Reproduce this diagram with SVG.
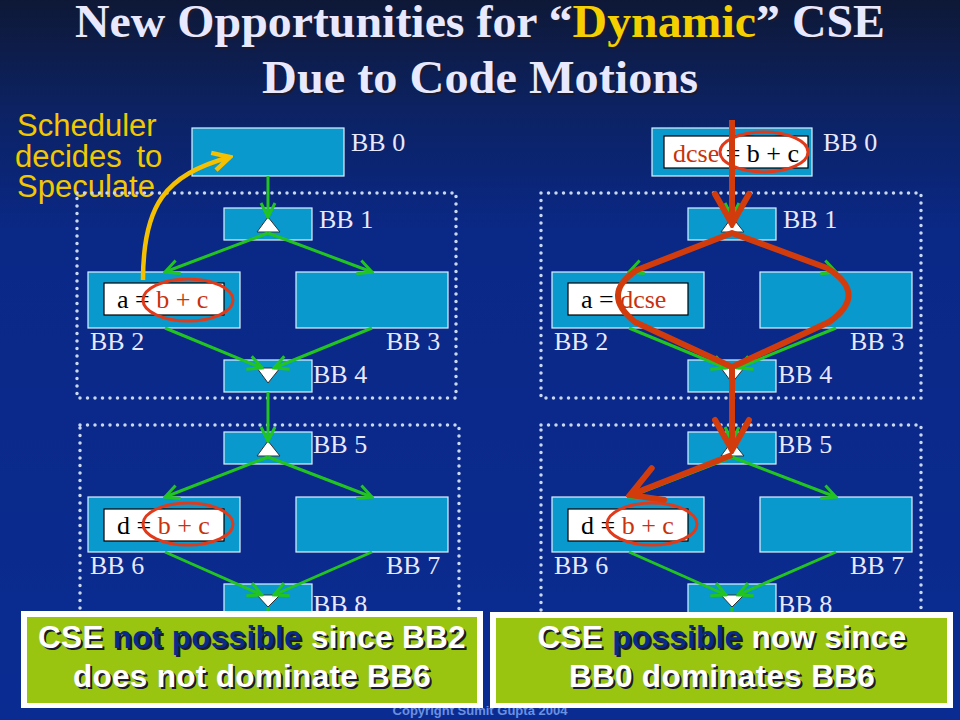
<svg xmlns="http://www.w3.org/2000/svg" width="960" height="720" viewBox="0 0 960 720">
<defs>
<linearGradient id="bg" x1="0" y1="0" x2="0" y2="1">
<stop offset="0" stop-color="#0e1836"/>
<stop offset="0.15" stop-color="#0c2262"/>
<stop offset="0.32" stop-color="#0a2886"/>
<stop offset="1" stop-color="#0a2c92"/>
</linearGradient>
<marker id="ag" markerUnits="userSpaceOnUse" markerWidth="18" markerHeight="18" viewBox="0 0 18 18" refX="16" refY="9" orient="auto">
<path d="M2,2 L16,9 L2,16" fill="none" stroke="#22c422" stroke-width="3" stroke-linejoin="miter"/>
</marker>
<marker id="ay" markerUnits="userSpaceOnUse" markerWidth="24" markerHeight="24" viewBox="0 0 24 24" refX="21" refY="12" orient="auto">
<path d="M4,3 L21,12 L4,21" fill="none" stroke="#f5c000" stroke-width="4.5"/>
</marker>
<marker id="ar" markerUnits="userSpaceOnUse" markerWidth="40" markerHeight="40" viewBox="0 0 40 40" refX="36" refY="20" orient="auto">
<path d="M6,3 L36,20 L6,37" fill="none" stroke="#d23c0c" stroke-width="6" stroke-linecap="round"/>
</marker>
</defs>
<style>
.bb{fill:#0a99cc;stroke:#dff2ff;stroke-width:1.2}
.ib{fill:#ffffff;stroke:#000000;stroke-width:1.2}
.lbl{font-family:"Liberation Serif","Times New Roman",serif;font-size:26px;fill:#e8e8ff}
.code{font-family:"Liberation Serif","Times New Roman",serif;font-size:26px;fill:#000}
.red{fill:#c8320e}
.tri{fill:#ffffff;stroke:#333;stroke-width:1}
.dot{fill:none;stroke:#c8d8f0;stroke-width:3.5;stroke-dasharray:0 7.5;stroke-linecap:round}
.g{fill:none;stroke:#22c422;stroke-width:3;marker-end:url(#ag)}
.ell{fill:none;stroke:#e03a1a;stroke-width:3}
.title{font-family:"Liberation Serif","Times New Roman",serif;font-weight:bold;font-size:46px}
.cap{font-family:"Liberation Sans",Arial,sans-serif;font-weight:bold;font-size:31.5px;letter-spacing:0.3px;text-anchor:middle}
.sh{fill:#1a1a30}
.wh{fill:#ffffff}
.nb{fill:#0a2a8a}
</style>
<rect x="0" y="0" width="960" height="720" fill="url(#bg)"/>

<g id="title">
<text class="title sh" x="77" y="39" textLength="810" lengthAdjust="spacingAndGlyphs">New Opportunities for “<tspan>Dynamic</tspan>” CSE</text>
<text class="title" x="75" y="37" textLength="810" lengthAdjust="spacingAndGlyphs" fill="#e8e8ff">New Opportunities for “<tspan fill="#f5d000">Dynamic</tspan>” CSE</text>
<text class="title sh" x="264" y="95" textLength="436" lengthAdjust="spacingAndGlyphs">Due to Code Motions</text>
<text class="title" x="262" y="93" textLength="436" lengthAdjust="spacingAndGlyphs" fill="#e8e8ff">Due to Code Motions</text>
</g>

<g id="note" font-family="'Liberation Sans',Arial,sans-serif" font-size="31" fill="#f2c800">
<text x="17" y="136">Scheduler</text>
<text x="15" y="167" word-spacing="6">decides to</text>
<text x="17" y="197">Speculate</text>
</g>

<g id="regions">
<rect class="dot" x="77" y="193" width="379" height="205"/>
<rect class="dot" x="80" y="425" width="379" height="215"/>
<rect class="dot" x="541" y="193" width="380" height="205"/>
<rect class="dot" x="541" y="425" width="380" height="215"/>
</g>

<!-- Left CFG -->
<g id="L-BB0"><rect class="bb" x="192" y="128" width="152" height="48"/><text class="lbl" x="351" y="151">BB 0</text></g>
<g id="L-BB1"><rect class="bb" x="224" y="208" width="88" height="32"/><polygon class="tri" points="268,217 257,232 280,232"/><text class="lbl" x="319" y="228">BB 1</text></g>
<g id="L-BB2"><rect class="bb" x="88" y="272" width="152" height="56"/><rect class="ib" x="104" y="283" width="120" height="32"/><text class="code" x="117" y="308">a = <tspan class="red">b + c</tspan></text><text class="lbl" x="90" y="350">BB 2</text></g>
<g id="L-BB3"><rect class="bb" x="296" y="272" width="152" height="56"/><text class="lbl" x="386" y="350">BB 3</text></g>
<g id="L-BB4"><rect class="bb" x="224" y="360" width="88" height="32"/><polygon class="tri" points="257,368 280,368 268,383"/><text class="lbl" x="313" y="383">BB 4</text></g>
<g id="L-BB5"><rect class="bb" x="224" y="432" width="88" height="32"/><polygon class="tri" points="268,441 257,456 280,456"/><text class="lbl" x="313" y="453">BB 5</text></g>
<g id="L-BB6"><rect class="bb" x="88" y="497" width="152" height="55"/><rect class="ib" x="104" y="509" width="120" height="32"/><text class="code" x="117" y="534">d = <tspan class="red">b + c</tspan></text><text class="lbl" x="90" y="574">BB 6</text></g>
<g id="L-BB7"><rect class="bb" x="296" y="497" width="152" height="55"/><text class="lbl" x="386" y="574">BB 7</text></g>
<g id="L-BB8"><rect class="bb" x="224" y="584" width="88" height="40"/><polygon class="tri" points="257,595 280,595 268,607"/><text class="lbl" x="313" y="613">BB 8</text></g>

<!-- Right CFG -->
<g id="R-BB0"><rect class="bb" x="652" y="128" width="160" height="48"/><rect class="ib" x="664" y="136" width="144" height="32"/><text class="code" x="673" y="162"><tspan class="red">dcse</tspan> = b + c</text><text class="lbl" x="823" y="151">BB 0</text></g>
<g id="R-BB1"><rect class="bb" x="688" y="208" width="88" height="32"/><polygon class="tri" points="732,217 721,232 744,232"/><text class="lbl" x="783" y="228">BB 1</text></g>
<g id="R-BB2"><rect class="bb" x="552" y="272" width="152" height="56"/><rect class="ib" x="568" y="283" width="120" height="32"/><text class="code" x="581" y="308">a = <tspan class="red">dcse</tspan></text><text class="lbl" x="554" y="350">BB 2</text></g>
<g id="R-BB3"><rect class="bb" x="760" y="272" width="152" height="56"/><text class="lbl" x="850" y="350">BB 3</text></g>
<g id="R-BB4"><rect class="bb" x="688" y="360" width="88" height="32"/><polygon class="tri" points="721,368 744,368 732,383"/><text class="lbl" x="778" y="383">BB 4</text></g>
<g id="R-BB5"><rect class="bb" x="688" y="432" width="88" height="32"/><polygon class="tri" points="732,441 721,456 744,456"/><text class="lbl" x="778" y="453">BB 5</text></g>
<g id="R-BB6"><rect class="bb" x="552" y="497" width="152" height="55"/><rect class="ib" x="568" y="509" width="120" height="32"/><text class="code" x="581" y="534">d = <tspan class="red">b + c</tspan></text><text class="lbl" x="554" y="574">BB 6</text></g>
<g id="R-BB7"><rect class="bb" x="760" y="497" width="152" height="55"/><text class="lbl" x="850" y="574">BB 7</text></g>
<g id="R-BB8"><rect class="bb" x="688" y="584" width="88" height="40"/><polygon class="tri" points="721,595 744,595 732,607"/><text class="lbl" x="778" y="613">BB 8</text></g>

<g id="connectors">
<path class="g" d="M268,176 L268,217"/>
<path class="g" d="M268,233 L165,272"/>
<path class="g" d="M268,233 L372,272"/>
<path class="g" d="M165,328 L262,368"/>
<path class="g" d="M372,328 L274,368"/>
<path class="g" d="M268,392 L268,441"/>
<path class="g" d="M268,457 L165,497"/>
<path class="g" d="M268,457 L372,497"/>
<path class="g" d="M165,552 L262,595"/>
<path class="g" d="M372,552 L274,595"/>
<path d="M268,607 L268,640" stroke="#22c422" stroke-width="3"/>
<path class="g" d="M732,176 L732,217"/>
<path class="g" d="M732,233 L629,272"/>
<path class="g" d="M732,233 L836,272"/>
<path class="g" d="M629,328 L726,368"/>
<path class="g" d="M836,328 L738,368"/>
<path class="g" d="M732,392 L732,441"/>
<path class="g" d="M732,457 L629,497"/>
<path class="g" d="M732,457 L836,497"/>
<path class="g" d="M629,552 L726,595"/>
<path class="g" d="M836,552 L738,595"/>
<path d="M732,607 L732,640" stroke="#22c422" stroke-width="3"/>
<path d="M143,280 C143,205 165,175 230,157" fill="none" stroke="#f5c000" stroke-width="4.5" marker-end="url(#ay)"/>
</g>

<g id="highlights">
<ellipse class="ell" cx="188" cy="300" rx="45" ry="21"/>
<ellipse class="ell" cx="188" cy="524" rx="45" ry="21"/>
<ellipse class="ell" cx="764" cy="152" rx="44" ry="20"/>
<ellipse class="ell" cx="652" cy="524" rx="45" ry="21"/>
</g>

<g id="path-red" fill="none" stroke="#d23c0c" stroke-width="6" stroke-linejoin="round">
<path d="M732,120 L732,224" marker-end="url(#ar)"/>
<path d="M732,233 L637,270 Q600,294 635,322 L732,367 L829,322 Q869,294 827,268 Z"/>
<path d="M732,367 L732,450" marker-end="url(#ar)"/>
<path d="M732,455 L630,495" marker-end="url(#ar)"/>
</g>

<text x="480" y="715" text-anchor="middle" font-family="'Liberation Sans',Arial,sans-serif" font-size="13" font-weight="bold" fill="#6a90e0">Copyright Sumit Gupta 2004</text>

<g id="caption-left">
<rect x="21" y="611" width="462" height="97" fill="#ffffff"/>
<rect x="27" y="617" width="450" height="86" fill="#99c511"/>
<text class="cap sh" x="254" y="650">CSE not possible since BB2</text>
<text class="cap wh" x="252" y="648">CSE <tspan class="nb">not possible</tspan> since BB2</text>
<text class="cap sh" x="254" y="689">does not dominate BB6</text>
<text class="cap wh" x="252" y="687">does not dominate BB6</text>
</g>
<g id="caption-right">
<rect x="490" y="612" width="463" height="96" fill="#ffffff"/>
<rect x="496" y="618" width="451" height="85" fill="#99c511"/>
<text class="cap sh" x="724" y="650">CSE possible now since</text>
<text class="cap wh" x="722" y="648">CSE <tspan class="nb">possible</tspan> now since</text>
<text class="cap sh" x="724" y="689">BB0 dominates BB6</text>
<text class="cap wh" x="722" y="687">BB0 dominates BB6</text>
</g>
</svg>
